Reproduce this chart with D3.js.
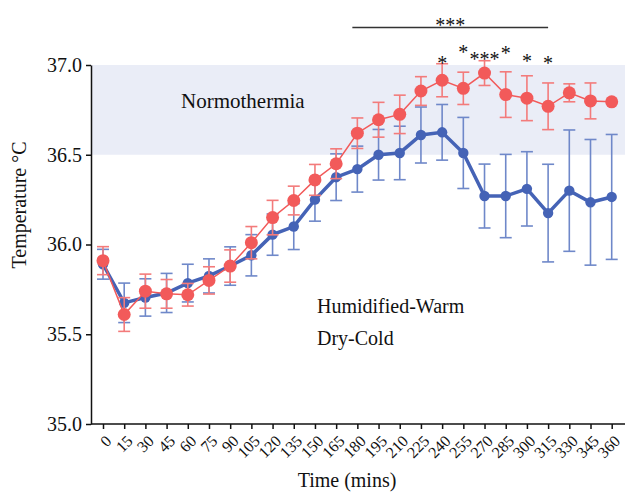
<!DOCTYPE html>
<html>
<head>
<meta charset="utf-8">
<script src="https://cdn.jsdelivr.net/npm/d3@7"></script>
</head>
<body style="margin:0; background:#fff;">
<div id="chart"></div>
<script>
// minutes
var times = [0, 15, 30, 45, 60, 75, 90, 105, 120, 135, 150, 165, 180, 195, 210, 225, 240, 255, 270, 285, 300, 315, 330, 345, 360];

// Humidified-Warm (red)
var warmMean = [35.91, 35.61, 35.74, 35.725, 35.72, 35.80, 35.88, 36.01, 36.15, 36.245, 36.36, 36.45, 36.62, 36.695, 36.725, 36.855, 36.915, 36.87, 36.955, 36.835, 36.815, 36.77, 36.845, 36.80, 36.795];
var warmErr = [0.078, 0.094, 0.095, 0.08, 0.063, 0.076, 0.09, 0.09, 0.096, 0.08, 0.086, 0.083, 0.085, 0.097, 0.107, 0.08, 0.092, 0.09, 0.069, 0.127, 0.125, 0.13, 0.05, 0.10, 0];

// Dry-Cold (blue)
var coldMean = [35.89, 35.675, 35.705, 35.73, 35.785, 35.825, 35.88, 35.94, 36.055, 36.10, 36.25, 36.375, 36.42, 36.50, 36.51, 36.61, 36.625, 36.51, 36.27, 36.27, 36.31, 36.175, 36.30, 36.235, 36.265];
var coldErr = [0.083, 0.11, 0.104, 0.109, 0.105, 0.095, 0.107, 0.115, 0.115, 0.128, 0.12, 0.13, 0.128, 0.141, 0.149, 0.156, 0.155, 0.198, 0.178, 0.232, 0.207, 0.272, 0.338, 0.35, 0.348];

var yTicks = [35.0, 35.5, 36.0, 36.5, 37.0];
var normoBand = [36.5, 37.0];

// significance marks
var sigTimes = [240, 255, 270, 285, 300, 315];
var sigLabels = ["*", "*", "***", "*", "*", "*"];
var sigRange = [180, 315];
var sigRangeLabel = "***";

var W = 625, H = 493;
var svg = d3.select("#chart").append("svg")
    .attr("width", W)
    .attr("height", H);

var x = d3.scaleLinear().domain([0, 360]).range([103, 611.7]);
var y = d3.scaleLinear().domain([35, 37]).range([424, 65]);
var axisX0 = 91, axisRight = 625;

// normothermia band
svg.append("rect")
    .attr("x", axisX0)
    .attr("y", y(normoBand[1]))
    .attr("width", axisRight - axisX0)
    .attr("height", y(normoBand[0]) - y(normoBand[1]))
    .attr("fill", "#eaedf7");

svg.append("text")
    .attr("x", 181)
    .attr("y", 108)
    .style("font-size", "21px")
    .text("Normothermia");

// axes
var yAxis = svg.append("g")
    .attr("transform", "translate(" + axisX0 + ",0)")
    .call(d3.axisLeft(y).tickValues(yTicks).tickFormat(d3.format(".1f")).tickSize(5).tickSizeOuter(0).tickPadding(4));
yAxis.select(".domain").attr("stroke", "#111").attr("stroke-width", 1.5);
yAxis.selectAll(".tick line").attr("stroke", "#111").attr("stroke-width", 1.5);
yAxis.selectAll("text").style("font-size", "20px");

var xAxis = svg.append("g")
    .attr("transform", "translate(0," + y(35) + ")")
    .call(d3.axisBottom(x).tickValues(times).tickSize(5).tickSizeOuter(0));
xAxis.select(".domain").remove();
xAxis.append("line")
    .attr("x1", axisX0).attr("x2", axisRight)
    .attr("stroke", "#111").attr("stroke-width", 1.5);
xAxis.selectAll(".tick line").attr("stroke", "#111").attr("stroke-width", 1.5);
xAxis.selectAll(".tick text")
    .attr("x", 0).attr("y", 0).attr("dy", 0)
    .attr("text-anchor", "end")
    .attr("transform", "translate(9,18) rotate(-45)")
    .style("font-size", "16px");

svg.append("text")
    .attr("x", 347)
    .attr("y", 487)
    .attr("text-anchor", "middle")
    .style("font-size", "20px")
    .text("Time (mins)");

svg.append("text")
    .attr("transform", "translate(26,205) rotate(-90)")
    .attr("text-anchor", "middle")
    .style("font-size", "20px")
    .text("Temperature \u00b0C");

// series
function drawSeries(mean, err, color, errColor, lineW, r) {
    var pts = times.map(function(t, i) { return { t: t, m: mean[i], e: err[i] }; });
    var g = svg.append("g");

    var eb = g.selectAll(".eb").data(pts.filter(function(d) { return d.e > 0; })).enter().append("g");
    eb.append("line")
        .attr("x1", function(d) { return x(d.t); })
        .attr("x2", function(d) { return x(d.t); })
        .attr("y1", function(d) { return y(d.m + d.e); })
        .attr("y2", function(d) { return y(d.m - d.e); })
        .attr("stroke", errColor).attr("stroke-width", 1.6);
    [1, -1].forEach(function(s) {
        eb.append("line")
            .attr("x1", function(d) { return x(d.t) - 6; })
            .attr("x2", function(d) { return x(d.t) + 6; })
            .attr("y1", function(d) { return y(d.m + s * d.e); })
            .attr("y2", function(d) { return y(d.m + s * d.e); })
            .attr("stroke", errColor).attr("stroke-width", 1.6);
    });

    g.append("path")
        .datum(pts)
        .attr("fill", "none")
        .attr("stroke", color)
        .attr("stroke-width", lineW)
        .attr("d", d3.line()
            .x(function(d) { return x(d.t); })
            .y(function(d) { return y(d.m); }));

    g.selectAll("circle")
        .data(pts)
        .enter()
        .append("circle")
        .attr("cx", function(d) { return x(d.t); })
        .attr("cy", function(d) { return y(d.m); })
        .attr("r", r)
        .attr("fill", color);
}

drawSeries(coldMean, coldErr, "#4563b6", "#6f88c9", 3.5, 5.2);
drawSeries(warmMean, warmErr, "#f25a5a", "#f37b7b", 1.5, 6.5);

// significance (baseline offsets below the 37.0 line)
var sigBase = [5, -6, 1, -5, 3, 5];
svg.selectAll(".sig")
    .data(sigTimes)
    .enter()
    .append("text")
    .attr("x", function(d) { return x(d); })
    .attr("y", function(d, i) { return y(37) + sigBase[i]; })
    .attr("text-anchor", "middle")
    .style("font-size", "20px")
    .text(function(d, i) { return sigLabels[i]; });

svg.append("line")
    .attr("x1", x(sigRange[0]) - 5)
    .attr("x2", x(sigRange[1]))
    .attr("y1", 27.5).attr("y2", 27.5)
    .attr("stroke", "#333").attr("stroke-width", 1.5);
svg.append("text")
    .attr("x", (x(sigRange[0]) - 5 + x(sigRange[1])) / 2)
    .attr("y", 32)
    .attr("text-anchor", "middle")
    .style("font-size", "20px")
    .text(sigRangeLabel);

// legend labels
svg.append("text").attr("x", 317).attr("y", 313).style("font-size", "20px").text("Humidified-Warm");
svg.append("text").attr("x", 317).attr("y", 345).style("font-size", "20px").text("Dry-Cold");

// serif everywhere
svg.selectAll("text")
    .style("font-family", "'Liberation Serif'")
    .attr("fill", "#111");
</script>
</body>
</html>
